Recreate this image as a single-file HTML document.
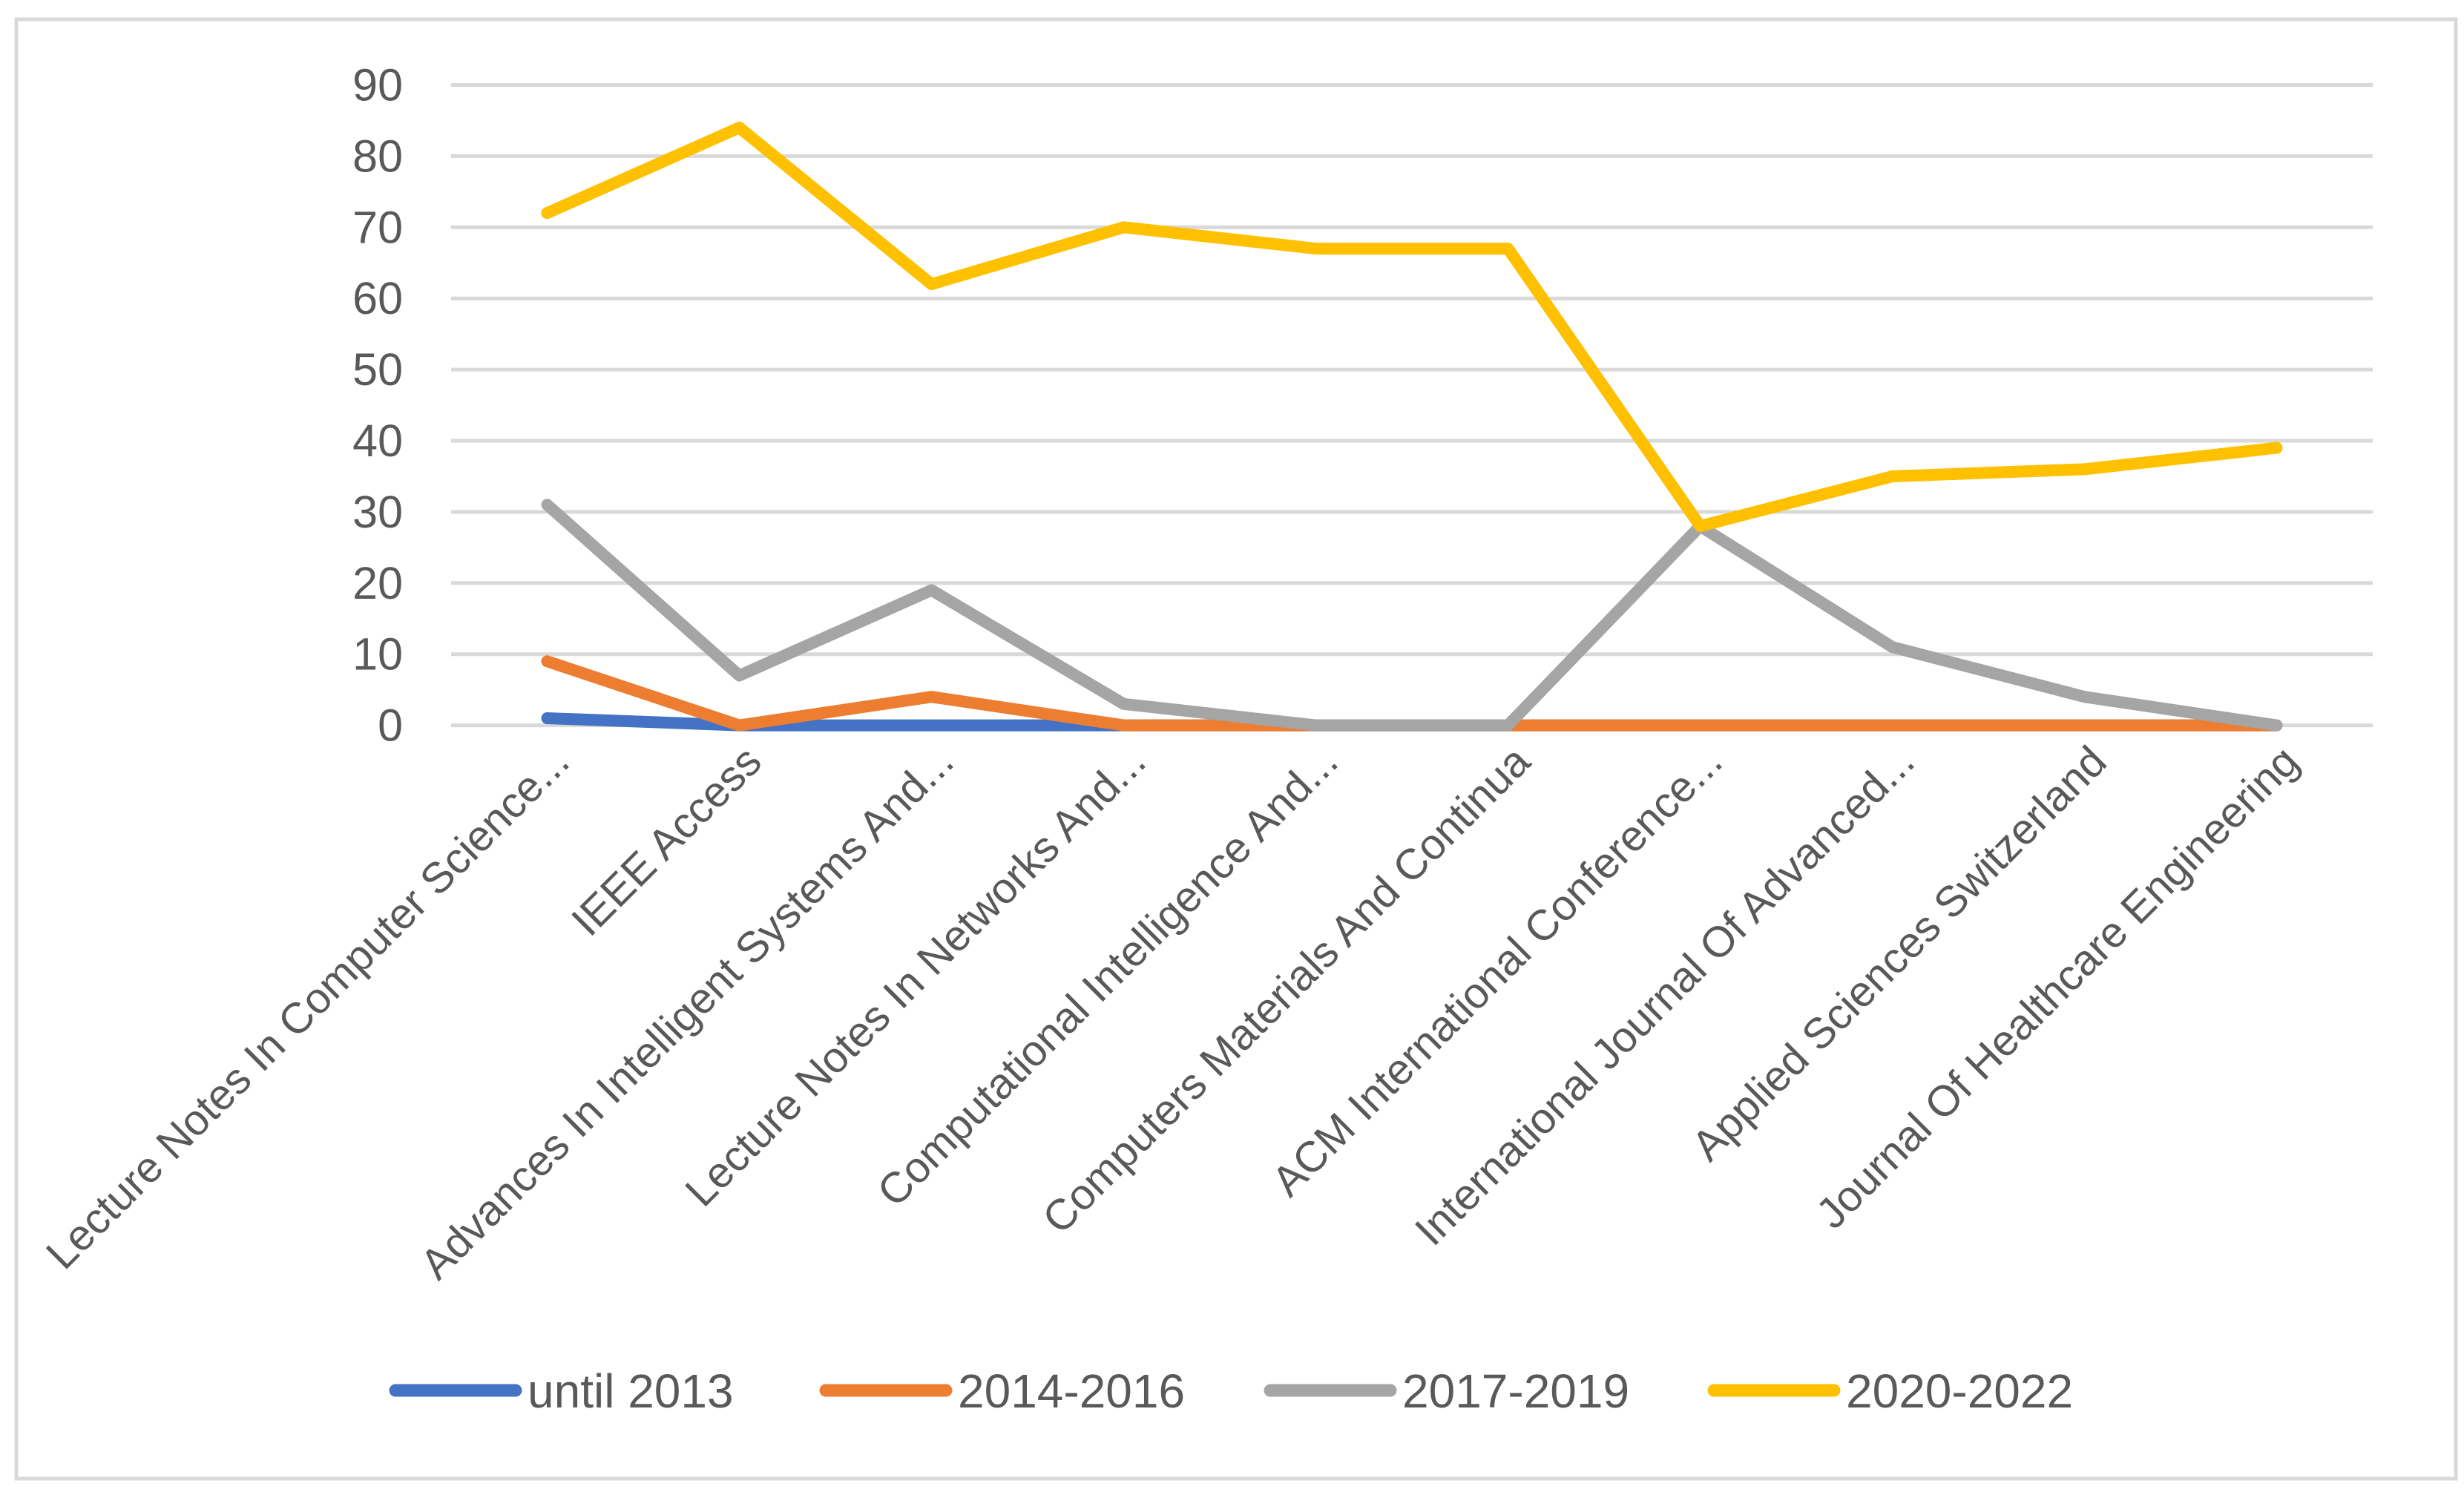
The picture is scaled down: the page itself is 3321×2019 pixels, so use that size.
<!DOCTYPE html>
<html><head><meta charset="utf-8">
<style>
html,body{margin:0;padding:0;background:#fff;}
svg{display:block;font-family:"Liberation Sans",sans-serif;}
</style></head>
<body>
<svg id="chart" width="3321" height="2019" viewBox="0 0 3321 2019" xmlns="http://www.w3.org/2000/svg">
<rect x="22" y="26" width="3288" height="1967" fill="#fff" stroke="#d9d9d9" stroke-width="5"/>
<g id="grid"></g>
<g id="yticks"></g>
<g id="xlabels"></g>
<g id="series"></g>
<g id="legend"></g>
</svg>
<script>
const categories = ["Lecture Notes In Computer Science...","IEEE Access","Advances In Intelligent Systems And...","Lecture Notes In Networks And...","Computational Intelligence And...","Computers Materials And Continua","ACM International Conference...","International Journal Of Advanced...","Applied Sciences Switzerland","Journal Of Healthcare Engineering"];
const until2013 = [1,0,0,0,0,0,0,0,0,0];
const s2014_2016 = [9,0,4,0,0,0,0,0,0,0];
const s2017_2019 = [31,7,19,3,0,0,28,11,4,0];
const s2020_2022 = [72,84,62,70,67,67,28,35,36,39];
const yTicks = [0,10,20,30,40,50,60,70,80,90];
const seriesNames = ["until 2013","2014-2016","2017-2019","2020-2022"];
const seriesColors = ["#4472c4","#ed7d31","#a5a5a5","#ffc000"];

const NS="http://www.w3.org/2000/svg";
const plotL=608, plotR=3198, y0=977.6, y90=114.5;
const yScale=v=>y0-(v/90)*(y0-y90);
const band=(plotR-plotL)/categories.length;
const xScale=i=>plotL+band*(i+0.5);
function mk(tag,attrs,parent){const e=document.createElementNS(NS,tag);for(const k in attrs)e.setAttribute(k,attrs[k]);parent.appendChild(e);return e;}

const grid=document.getElementById('grid'), yt=document.getElementById('yticks');
yTicks.forEach(v=>{
  const l=mk('line',{x1:plotL,x2:plotR,y1:yScale(v),y2:yScale(v),stroke:'#d9d9d9','stroke-width':5},grid);
  
  
  const t=mk('text',{x:543,y:yScale(v)+21,'text-anchor':'end','font-size':61,fill:'#595959'},yt);
  t.textContent=v;
  
  
});

const xl=document.getElementById('xlabels');
categories.forEach((c,i)=>{
  const x=xScale(i)+33, y=1030;
  const t=mk('text',{x:x,y:y,'text-anchor':'end','font-size':58,fill:'#595959',transform:`rotate(-45 ${x} ${y})`},xl);
  t.textContent=c;
  
  
});

const sg=document.getElementById('series');
[until2013,s2014_2016,s2017_2019,s2020_2022].forEach((arr,si)=>{
  const pts=arr.map((v,i)=>xScale(i).toFixed(1)+','+yScale(v).toFixed(1)).join(' ');
  const p=mk('polyline',{points:pts,fill:'none',stroke:seriesColors[si],'stroke-width':16,'stroke-linecap':'round','stroke-linejoin':'round'},sg);
  
  
});

const lg=document.getElementById('legend');
const legX=[533,1113,1712,2310];
seriesNames.forEach((n,i)=>{
  const g=mk('g',{},lg);
  
  
  mk('line',{x1:legX[i],x2:legX[i]+162,y1:1874,y2:1874,stroke:seriesColors[i],'stroke-width':17,'stroke-linecap':'round'},g);
  const t=mk('text',{x:legX[i]+178,y:1897,'font-size':64,fill:'#595959'},g);
  t.textContent=n;
});
</script>
</body></html>
